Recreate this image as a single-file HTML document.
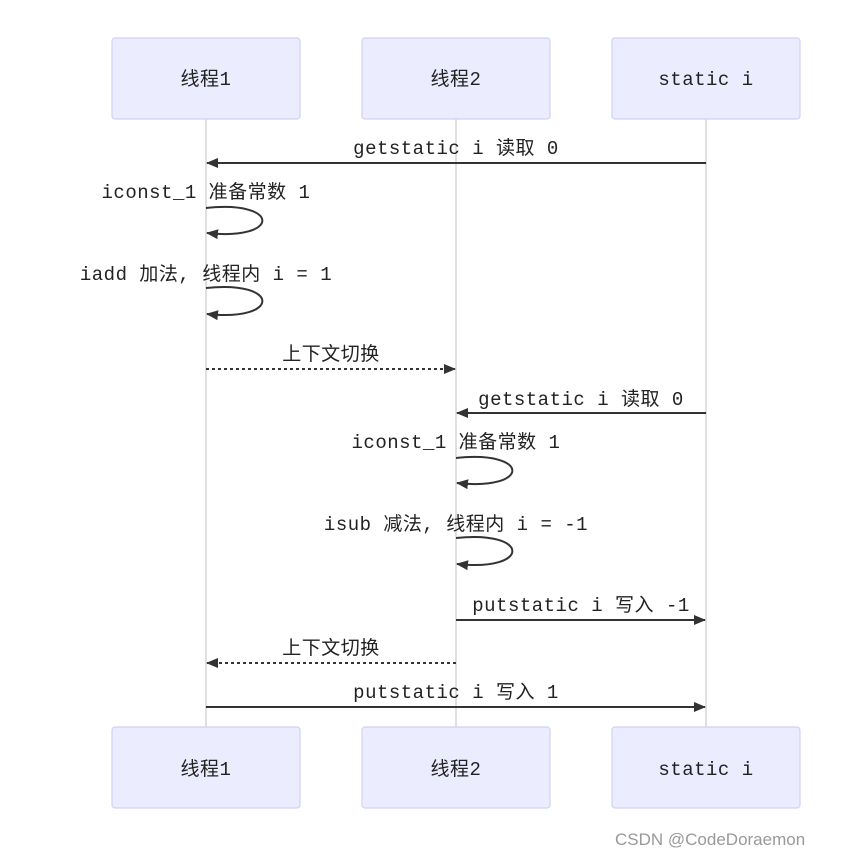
<!DOCTYPE html>
<html><head><meta charset="utf-8"><style>
html,body{margin:0;padding:0;background:#fff;}
svg text{font-family:"Liberation Mono","Noto Sans CJK SC",monospace;font-size:19px;letter-spacing:0.5px;fill:#222;}
</style></head><body>
<svg width="852" height="856" viewBox="0 0 852 856" xmlns="http://www.w3.org/2000/svg">
<defs>
<marker id="a" markerWidth="12" markerHeight="10" refX="11" refY="5" orient="auto" markerUnits="userSpaceOnUse">
<path d="M0,0 L12,5 L0,10 z" fill="#333"/></marker>
</defs>
<g stroke="#ccc" stroke-width="1.2">
<line x1="206" y1="119" x2="206" y2="727"/>
<line x1="456" y1="119" x2="456" y2="727"/>
<line x1="706" y1="119" x2="706" y2="727"/>
</g>
<g fill="#ececff" stroke="#d2d0f5" stroke-width="1.2">
<rect x="112" y="38" width="188" height="81" rx="3"/>
<rect x="362" y="38" width="188" height="81" rx="3"/>
<rect x="612" y="38" width="188" height="81" rx="3"/>
<rect x="112" y="727" width="188" height="81" rx="3"/>
<rect x="362" y="727" width="188" height="81" rx="3"/>
<rect x="612" y="727" width="188" height="81" rx="3"/>
</g>
<g text-anchor="middle">
<text x="206" y="85">线程1</text>
<text x="456" y="85">线程2</text>
<text x="706" y="85">static i</text>
<text x="206" y="775">线程1</text>
<text x="456" y="775">线程2</text>
<text x="706" y="775">static i</text>
<text x="456" y="154">getstatic i 读取 0</text>
<text x="206" y="198">iconst_1 准备常数 1</text>
<text x="206" y="280">iadd 加法, 线程内 i = 1</text>
<text x="331" y="360">上下文切换</text>
<text x="581" y="405">getstatic i 读取 0</text>
<text x="456" y="448">iconst_1 准备常数 1</text>
<text x="456" y="530">isub 减法, 线程内 i = -1</text>
<text x="581" y="611">putstatic i 写入 -1</text>
<text x="331" y="654">上下文切换</text>
<text x="456" y="698">putstatic i 写入 1</text>
</g>
<g stroke="#333" stroke-width="2" fill="none">
<line x1="706" y1="163" x2="207" y2="163" marker-end="url(#a)"/>
<path d="M206,208 C281,200 281,241 207,233" marker-end="url(#a)"/>
<path d="M206,288 C281,280 281,322 207,314" marker-end="url(#a)"/>
<line x1="206" y1="369" x2="455" y2="369" stroke-dasharray="3,3" marker-end="url(#a)"/>
<line x1="706" y1="413" x2="457" y2="413" marker-end="url(#a)"/>
<path d="M456,458 C531,450 531,491 457,483" marker-end="url(#a)"/>
<path d="M456,538 C531,530 531,572 457,564" marker-end="url(#a)"/>
<line x1="456" y1="620" x2="705" y2="620" marker-end="url(#a)"/>
<line x1="456" y1="663" x2="207" y2="663" stroke-dasharray="3,3" marker-end="url(#a)"/>
<line x1="206" y1="707" x2="705" y2="707" marker-end="url(#a)"/>
</g>
<text x="615" y="845" style="font-family:'Liberation Sans',sans-serif;font-size:17px;letter-spacing:0;fill:#999;">CSDN @CodeDoraemon</text>
</svg>
</body></html>
